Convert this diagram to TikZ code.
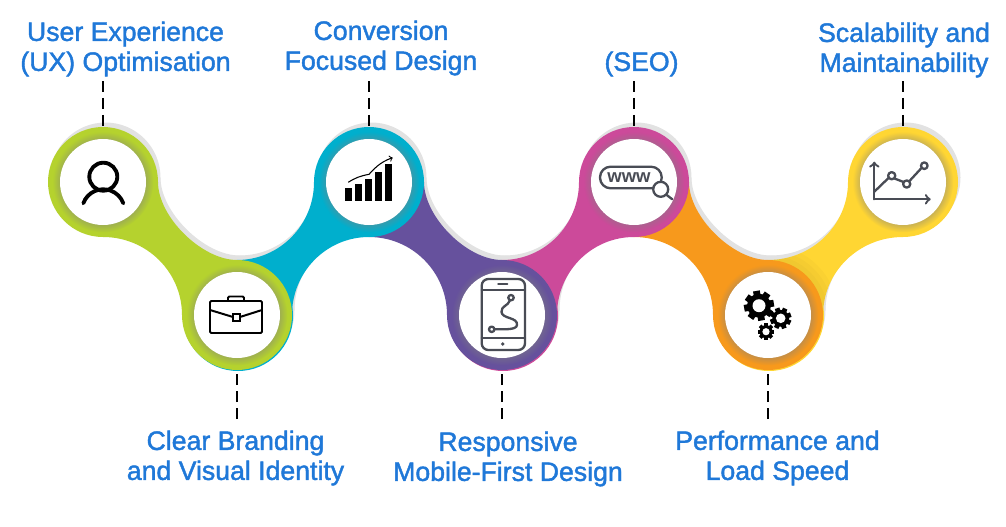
\documentclass[tikz,border=0pt]{standalone}
\usepackage{amsmath,amssymb}
\usepackage{xcolor}
\usepackage{fontspec}
\usepackage{tikz}
\usetikzlibrary{positioning}
\usetikzlibrary{arrows}
\usetikzlibrary{shadows}
\setmainfont{Liberation Sans}
\newfontfamily\labelfont[FakeBold=1.6]{Liberation Sans}

\definecolor{shadowgray}{HTML}{E2E2E2}
\definecolor{limeband}{HTML}{B5D22E}
\definecolor{cyanband}{HTML}{00AFCD}
\definecolor{purpleband}{HTML}{66519D}
\definecolor{pinkband}{HTML}{CC4A9A}
\definecolor{orangeband}{HTML}{F7991C}
\definecolor{yellowband}{HTML}{FFD633}
\definecolor{labelblue}{HTML}{1F78D8}
\definecolor{icongray}{HTML}{494C55}

% neck going down from (#1,344) to (#2,211), and going up from (#1,211) to (#2,344)
\newcommand{\neckdown}[2]{(#1+55,344) .. controls (#1+55,309) and (#2-35,266) .. (#2,266) -- (#2-55,211) arc[start angle=0,end angle=90,x radius=#2-#1-55,y radius=78] -- cycle}
\newcommand{\neckup}[2]{(#1,266) arc[start angle=270,end angle=360,x radius=#2-#1-55,y radius=78] -- (#2,289) arc[start angle=90,end angle=180,x radius=#2-#1-55,y radius=78] -- cycle}

\tikzset{
    bubble/.style={circle,minimum size=110*0.0265cm,inner sep=0pt,fill=#1},
    hole/.style={circle,minimum size=86*0.0265cm,inner sep=0pt,fill=white,
        circular drop shadow={shadow xshift=0pt,shadow yshift=0pt,shadow scale=1.17,opacity=.4}},
    itemlabel/.style={text=labelblue,font=\labelfont\fontsize{20.1}{22.6}\selectfont,align=center},
    leader/.style={black,line width=1.5pt,dash pattern=on 8.3pt off 4.5pt},
    iconline/.style={icongray,line width=1.75pt,line cap=round,line join=round}
}

\begin{document}
\begin{tikzpicture}[x=0.0265cm,y=0.0265cm]
    \useasboundingbox (0,0) rectangle (1006,526);

    % Draw gray shadow behind the band
    \begin{scope}[shift={(2.5,4.5)}]
        \fill[shadowgray] (103,344) circle (55) (369,344) circle (55) (634,344) circle (55) (903,344) circle (55);
        \fill[shadowgray] (237,211) circle (55) (502,211) circle (55) (768,211) circle (55);
        \fill[shadowgray] \neckdown{103}{237} \neckup{237}{369} \neckdown{369}{502} \neckup{502}{634} \neckdown{634}{768} \neckup{768}{903};
    \end{scope}

    % Draw necks and slivers under the lower bubbles
    \fill[cyanband] \neckup{237}{369};
    \fill[cyanband] (238,210) circle (55);
    \fill[pinkband] \neckup{502}{634};
    \fill[pinkband] (503,210) circle (55);
    \fill[yellowband] \neckup{768}{903};
    \fill[yellowband] (769,210) circle (55);
    \fill[limeband] \neckdown{103}{237};
    \fill[purpleband] \neckdown{369}{502};
    \fill[orangeband] \neckdown{634}{768};

    % Soft dark patch on the yellow neck
    \begin{scope}
        \clip \neckup{768}{903};
        \fill[black,opacity=.02] (768,211) circle (70);
        \fill[black,opacity=.02] (768,211) circle (65);
        \fill[black,opacity=.02] (768,211) circle (60);
    \end{scope}

    % Draw bubbles
    \node[bubble=limeband] (ux) at (103,344) {};
    \node[bubble=limeband] (brand) at (237,211) {};
    \node[bubble=cyanband] (conv) at (369,344) {};
    \node[bubble=purpleband] (mobile) at (502,211) {};
    \node[bubble=pinkband] (seo) at (634,344) {};
    \node[bubble=orangeband] (speed) at (768,211) {};
    \node[bubble=yellowband] (scale) at (903,344) {};

    % Draw white holes
    \node[hole] at (ux) {};
    \node[hole] at (brand) {};
    \node[hole] at (conv) {};
    \node[hole] at (mobile) {};
    \node[hole] at (seo) {};
    \node[hole] at (speed) {};
    \node[hole] at (scale) {};

    % Labels
    \node[itemlabel] (uxlabel) at (125.5,477) {User Experience\\(UX) Optimisation};
    \node[itemlabel] (convlabel) at (381,478) {Conversion\\Focused Design};
    \node[itemlabel] (seolabel) at (641.5,462) {(SEO)};
    \node[itemlabel] (scalelabel) at (904,476) {Scalability and\\Maintainability};
    \node[itemlabel] (brandlabel) at (235.5,68) {Clear Branding\\and Visual Identity};
    \node[itemlabel] (mobilelabel) at (508,67) {Responsive\\Mobile-First Design};
    \node[itemlabel] (speedlabel) at (777.5,68) {Performance and\\Load Speed};

    % Free ends of the dashed leaders
    \coordinate (uxend) at (103,445);
    \coordinate (convend) at (369,445);
    \coordinate (seoend) at (634,445);
    \coordinate (scaleend) at (903,445);
    \coordinate (brandend) at (237,107);
    \coordinate (mobileend) at (502,107);
    \coordinate (speedend) at (768,107);

    % Dashed leaders
    \draw[leader] (uxend) -- (ux.north);
    \draw[leader] (convend) -- (conv.north);
    \draw[leader] (seoend) -- (seo.north);
    \draw[leader] (scaleend) -- (scale.north);
    \draw[leader] (brandend) -- (brand.south);
    \draw[leader] (mobileend) -- (mobile.south);
    \draw[leader] (speedend) -- (speed.south);

    % Person icon
    \draw[black,line width=2.9pt] (103.3,349.3) circle (14);
    \draw[black,line width=2.9pt,line cap=round] (83.3,322.7) arc[start angle=160,end angle=20,radius=21.3];

    % Briefcase icon
    \draw[black,line width=1.5pt,rounded corners=1pt] (210,193) rectangle (262,225);
    \draw[black,line width=1.5pt,rounded corners=1pt] (228,225) -- (228,229.5) -- (244,229.5) -- (244,225);
    \draw[black,line width=1.5pt] (210,216) -- (233,209) (240,209) -- (262,216);
    \draw[black,line width=1.5pt] (233,205) rectangle (240,212);

    % Bar chart icon
    \fill[black] (345,325.3) rectangle (352.3,337.7);
    \fill[black] (355,325.3) rectangle (362.3,342);
    \fill[black] (365,325.3) rectangle (372.3,347);
    \fill[black] (375,325.3) rectangle (382.3,354.3);
    \fill[black] (385,325.3) rectangle (392.3,361.7);
    \draw[black,line width=0.8pt,->] (348.3,343.7) .. controls (355,348) and (360,350) .. (369,351.7) .. controls (374,357) and (380,364) .. (392.7,368.3);

    % Phone icon
    \draw[iconline,rounded corners=5pt] (481.7,176) rectangle (525,247);
    \draw[iconline] (481.7,236) -- (525,236) (481.7,188.3) -- (525,188.3);
    \draw[iconline] (498.3,242) -- (507.3,242);
    \fill[icongray] (502.7,182) circle (1.8);
    \draw[iconline] (511,228.3) circle (2.7);
    \draw[iconline] (491.7,196.7) circle (2.7);
    \draw[iconline] (510,225.6) .. controls (508,220) and (501,220) .. (501.5,214) .. controls (502,207) and (518,209) .. (517,201) .. controls (516.5,196) and (505,196.7) .. (494.4,196.7);

    % Search icon
    \draw[iconline,rounded corners=8pt] (600,337.7) rectangle (661.7,359.3);
    \node[text=icongray,font=\bfseries\fontsize{14}{14}\selectfont,inner sep=0pt] (www) at (629,348) {www};
    \draw[iconline,fill=white] (660.7,336.7) circle (7.5);
    \draw[iconline] (666.7,331) -- (672.3,326.7);

    % Gears icon
    \foreach \a in {0,45,...,315} \fill[black,shift={(759,220.3)},rotate=\a+10] (-3.4,0) rectangle (3.4,15);
    \fill[black] (759,220.3) circle (12);
    \fill[white] (759,220.3) circle (6.5);
    \foreach \a in {0,45,...,315} \fill[black,shift={(780.7,207.7)},rotate=\a+20] (-2.4,0) rectangle (2.4,10.7);
    \fill[black] (780.7,207.7) circle (8.4);
    \fill[white] (780.7,207.7) circle (4.8);
    \foreach \a in {0,45,...,315} \fill[black,shift={(766,194.3)},rotate=\a] (-1.9,0) rectangle (1.9,8.3);
    \fill[black] (766,194.3) circle (6.5);
    \fill[white] (766,194.3) circle (3.6);

    % Line chart icon
    \draw[iconline,->] (874.3,326.7) -- (874.3,364.3);
    \draw[iconline,->] (874.3,326.7) -- (930.7,326.7);
    \draw[iconline] (874.3,334.3) -- (888.5,348) (894.5,347.5) -- (903.5,344) (909.5,345) -- (921.5,358);
    \draw[iconline] (891.7,350.3) circle (3.6);
    \draw[iconline] (906.7,342) circle (3.6);
    \draw[iconline] (924.3,360.3) circle (3.3);
\end{tikzpicture}
\end{document}
